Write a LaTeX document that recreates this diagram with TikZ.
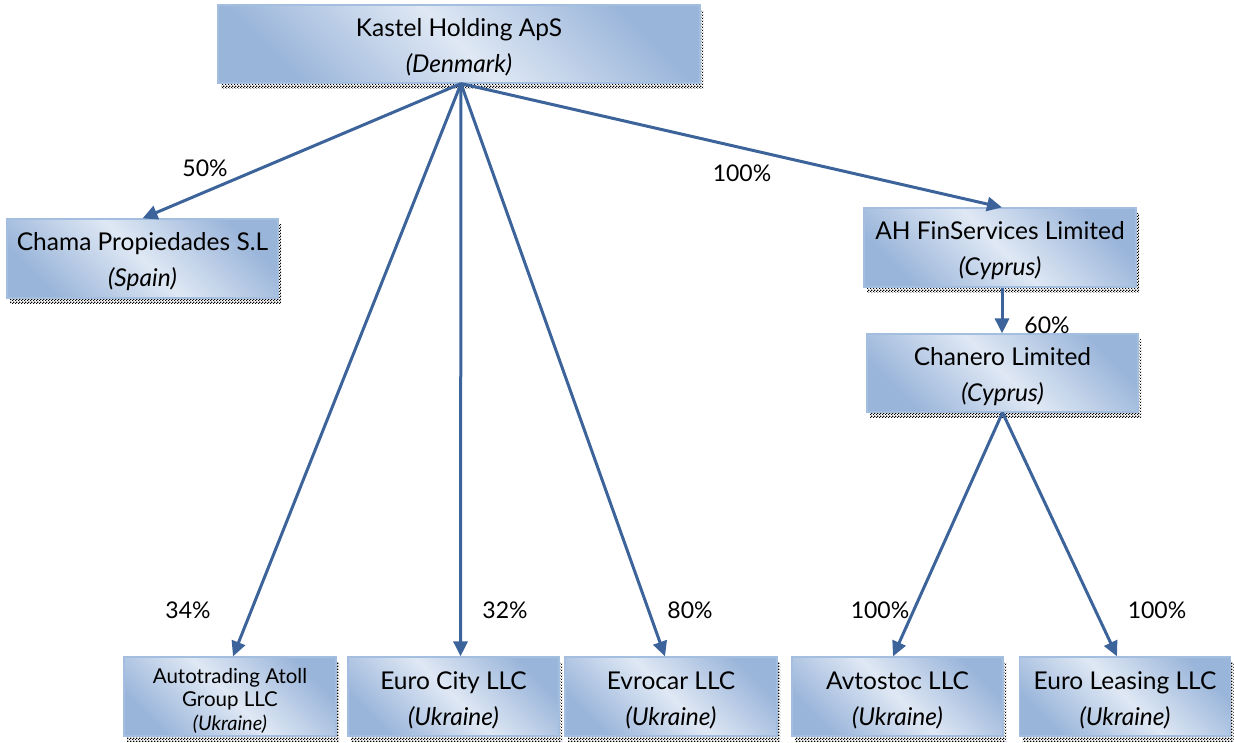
\documentclass[tikz,border=0pt]{standalone}
\usepackage{fontspec}
\setmainfont{Lato}
\usetikzlibrary{arrows.meta,shadows,patterns,calc}
\pgfdeclarepatternformonly{chk}{\pgfpointorigin}{\pgfpoint{3pt}{3pt}}{\pgfpoint{3pt}{3pt}}{%
  \pgfpathrectangle{\pgfpointorigin}{\pgfpoint{1.5pt}{1.5pt}}%
  \pgfpathrectangle{\pgfpoint{1.5pt}{1.5pt}}{\pgfpoint{1.5pt}{1.5pt}}%
  \pgfusepath{fill}}
\definecolor{boxdark}{HTML}{9AB5DA}
\definecolor{boxlight}{HTML}{DFE8F4}
\definecolor{boxborder}{HTML}{A3BEDF}
\definecolor{arrowblue}{HTML}{3C649B}
\newcommand{\entstrut}{\rule{0pt}{25pt}}
\begin{document}
\begin{tikzpicture}[x=1pt,y=-1pt,
  ent/.style={draw=boxborder, line width=1.2pt,
    top color=boxdark, bottom color=boxdark, middle color=boxlight, shading angle=-45,
    inner sep=0pt, align=center, font=\fontsize{24.5}{36}\selectfont,
    drop shadow={shadow xshift=3pt, shadow yshift=-5pt, pattern=chk, opacity=1}},
  small/.style={ent, font=\fontsize{20.5}{23.5}\selectfont},
  arr/.style={draw=arrowblue, line width=3pt, -{Triangle[length=15pt,width=14pt]}, fill=arrowblue},
  pct/.style={font=\fontsize{23}{28}\selectfont, inner sep=0pt}
]
\useasboundingbox (0,0) rectangle (1234,742);

\node[ent, minimum width=482, minimum height=78] (k) at (459,44) {\entstrut Kastel Holding ApS\\\textit{(Denmark)}};
\node[ent, minimum width=271, minimum height=79] (ch) at (142.5,258.5) {\entstrut Chama Propiedades S.L\\\textit{(Spain)}};
\node[ent, minimum width=272, minimum height=79] (ah) at (1000,247.5) {\entstrut AH FinServices Limited\\\textit{(Cyprus)}};
\node[ent, minimum width=271, minimum height=78] (cn) at (1002.5,373) {\entstrut Chanero Limited\\\textit{(Cyprus)}};
\node[small, minimum width=212, minimum height=79] (at) at (230,696.5) {\rule{0pt}{23pt}Autotrading Atoll\\Group LLC\\\fontsize{20}{23.5}\selectfont\textit{(Ukraine)}};
\node[ent, minimum width=211, minimum height=79] (ec) at (453.5,696.5) {\entstrut Euro City LLC\\\textit{(Ukraine)}};
\node[ent, minimum width=212, minimum height=79] (ev) at (671,696.5) {\entstrut Evrocar LLC\\\textit{(Ukraine)}};
\node[ent, minimum width=211, minimum height=79] (av) at (897.5,696.5) {\entstrut Avtostoc LLC\\\textit{(Ukraine)}};
\node[ent, minimum width=211, minimum height=79] (el) at (1125,696.5) {\entstrut Euro Leasing LLC\\\textit{(Ukraine)}};

\draw[arr] ([xshift=2pt]k.south) -- (ch.north);
\draw[arr] ([xshift=2pt]k.south) -- ([xshift=3pt]at.north);
\draw[arr] ([xshift=2pt]k.south) -- ([xshift=7pt]ec.north);
\draw[arr] ([xshift=2pt]k.south) -- ([xshift=-6pt]ev.north);
\draw[arr] ([xshift=2pt]k.south) -- ([xshift=2pt]ah.north);
\draw[arr] ([xshift=2pt]ah.south) -- ([xshift=-0.5pt]cn.north);
\draw[arr] (cn.south) -- ([xshift=-4.5pt]av.north);
\draw[arr] (cn.south) -- ([xshift=-8pt]el.north);

\node[pct] (p50) at (205,168) {50\%};
\node[pct] (p100a) at (742,173) {100\%};
\node[pct] (p60) at (1047,325) {60\%};
\node[pct] (p34) at (188,610) {34\%};
\node[pct] (p32) at (505,610) {32\%};
\node[pct] (p80) at (690,610) {80\%};
\node[pct] (p100b) at (880,610) {100\%};
\node[pct] (p100c) at (1157,610) {100\%};
\end{tikzpicture}
\end{document}
